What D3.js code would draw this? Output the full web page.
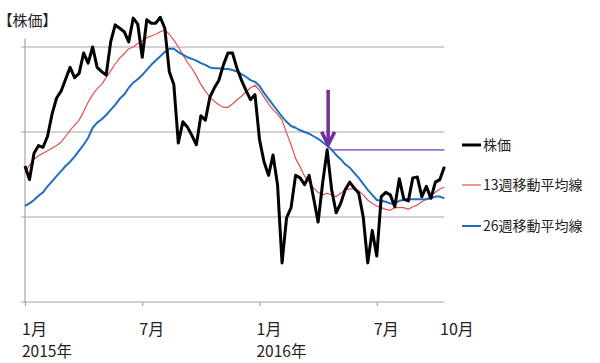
<!DOCTYPE html>
<html>
<head>
<meta charset="utf-8">
<script src="https://cdn.jsdelivr.net/npm/d3@7"></script>
<style>
  body { margin: 0; background: #fff; }
  text { font-family: "Noto Sans CJK JP", "Noto Sans", sans-serif; fill: #222; }
</style>
</head>
<body>
<svg id="chart" width="600" height="363"></svg>
<script>
// weekly closes, Jan 2015 - early Oct 2016 (units unlabelled in the source)
const price = [160, 144, 175, 184, 182, 195, 221, 240, 248, 262, 276, 264, 269, 293, 281, 300,
  276, 271, 267, 306, 326, 322, 318, 306, 334, 327, 288, 332, 328, 328, 335, 322,
  271, 256, 187, 212, 206, 196, 185, 219, 214, 241, 252, 261, 279, 293, 293, 275,
  261, 249, 238, 244, 191, 165, 149, 173, 138, 46, 99, 111, 149, 146, 138, 149,
  122, 94, 140, 179, 132, 105, 116, 132, 141, 134, 128, 100, 46, 84, 54, 124,
  129, 126, 112, 145, 121, 119, 146, 147, 124, 136, 122, 141, 144, 159];

const ma13 = [152, 161, 168, 172, 175, 178, 181, 184, 188, 195, 202, 208, 214, 224, 235, 244,
  251, 256, 264, 272, 280, 287, 292, 298, 300, 304, 307, 311, 313, 315, 318, 320,
  315, 308, 300, 291, 282, 275, 266, 256, 248, 241, 236, 232, 229, 229, 233, 238,
  242, 247, 252, 255, 249, 241, 233, 226, 221, 214, 199, 185, 169, 159, 148, 141,
  134, 129, 126, 128, 126, 124, 128, 132, 133, 133, 131, 126, 120, 116, 113, 111,
  109, 108, 111, 111, 111, 109, 112, 114, 118, 121, 125, 129, 133, 135];

const ma26 = [113, 116, 120, 125, 129, 136, 142, 148, 154, 160, 165, 171, 178, 185, 193, 205,
  211, 215, 220, 226, 232, 239, 244, 252, 258, 262, 267, 273, 279, 284, 289, 294,
  298, 298, 294, 291, 288, 286, 284, 281, 279, 276, 275, 275, 274, 274, 273, 271,
  268, 265, 261, 259, 254, 246, 239, 232, 225, 218, 212, 207, 205, 202, 200, 198,
  195, 192, 188, 184, 179, 173, 168, 162, 158, 152, 146, 139, 132, 126, 120, 119,
  118, 116, 116, 119, 120, 121, 121, 121, 121, 121, 122, 124, 124, 122];

const gridValues = [100, 200, 300];
const monthTicks = [0, 26, 52, 78];
const monthLabels = ["1月", "7月", "1月", "7月"];
const yearLabels = ["2015年", "", "2016年", ""];
const lastLabel = "10月";
const signalWeek = 67;
const signalValue = 179;

const seriesNames = ["株価", "13週移動平均線", "26週移動平均線"];
const seriesColors = ["#000000", "#E5504C", "#1F6FBF"];
const seriesWidths = [3, 1.2, 2];

const svg = d3.select("#chart");

const x = d3.scaleLinear().domain([0, price.length - 1]).range([25, 444.4]);
const y = d3.scaleLinear().domain([0, 310]).range([302, 38.5]);

// gridlines (stick out a little to the left like tick marks)
svg.append("g")
    .selectAll("line")
    .data(gridValues)
    .join("line")
    .attr("x1", x.range()[0] - 4)
    .attr("x2", x.range()[1])
    .attr("y1", d => y(d))
    .attr("y2", d => y(d))
    .attr("stroke", "#A6A6A6")
    .attr("stroke-width", 1.2);

// y axis line
svg.append("line")
    .attr("x1", x(0)).attr("x2", x(0))
    .attr("y1", y(0)).attr("y2", y(310))
    .attr("stroke", "#A6A6A6")
    .attr("stroke-width", 1.2);

// x axis
const xAxis = svg.append("g")
    .attr("transform", `translate(0,${y(0)})`)
    .call(d3.axisBottom(x).tickValues(monthTicks).tickSize(4).tickSizeOuter(0).tickFormat(""));
xAxis.select(".domain").attr("stroke", "#A6A6A6").attr("stroke-width", 1.2)
    .attr("d", `M${x(0) - 4},0H${x.range()[1]}`);
xAxis.selectAll(".tick line").attr("stroke", "#A6A6A6").attr("stroke-width", 1.2);

svg.append("g")
    .selectAll("text")
    .data(monthTicks)
    .join("text")
    .attr("x", d => x(d) - 3)
    .attr("y", 335)
    .style("font-size", "16px")
    .text((d, i) => monthLabels[i]);

svg.append("text")
    .attr("x", 440)
    .attr("y", 335)
    .style("font-size", "16px")
    .text(lastLabel);

svg.append("g")
    .selectAll("text")
    .data(monthTicks)
    .join("text")
    .attr("x", d => x(d) - 3)
    .attr("y", 357)
    .style("font-size", "15.5px")
    .text((d, i) => yearLabels[i]);

// title
svg.append("text")
    .attr("x", 5)
    .attr("y", 26)
    .style("font-size", "15px")
    .style("font-feature-settings", "'palt'")
    .text("【株価】");

// signal level line
svg.append("line")
    .attr("x1", x(signalWeek) + 4)
    .attr("x2", x.range()[1])
    .attr("y1", y(signalValue))
    .attr("y2", y(signalValue))
    .attr("stroke", "#9B6FD3")
    .attr("stroke-width", 1.6);

// series lines, thin ones first
const line = d3.line().x((d, i) => x(i)).y(d => y(d));
const series = [price, ma13, ma26];
[1, 2, 0].forEach(k => {
    svg.append("path")
        .datum(series[k])
        .attr("fill", "none")
        .attr("stroke", seriesColors[k])
        .attr("stroke-width", seriesWidths[k])
        .attr("stroke-linejoin", "round")
        .attr("d", line);
});

// purple arrow pointing at the crossing
const ax = x(signalWeek) + 1;
const tipY = y(signalValue) - 5;
svg.append("line")
    .attr("x1", ax).attr("x2", ax)
    .attr("y1", tipY - 55).attr("y2", tipY - 2)
    .attr("stroke", "#7030A0")
    .attr("stroke-width", 3.5);
svg.append("path")
    .attr("d", `M${ax - 6.5},${tipY - 13}L${ax},${tipY}L${ax + 6.5},${tipY - 13}`)
    .attr("fill", "none")
    .attr("stroke", "#7030A0")
    .attr("stroke-width", 3.5)
    .attr("stroke-linejoin", "miter");

// legend
const legend = svg.append("g")
    .selectAll("g")
    .data(seriesNames)
    .join("g")
    .attr("transform", (d, i) => `translate(462,${[145, 185, 226][i]})`);
legend.append("line")
    .attr("x1", 0).attr("x2", 19)
    .attr("stroke", (d, i) => seriesColors[i])
    .attr("stroke-width", (d, i) => seriesWidths[i]);
legend.append("text")
    .attr("x", 21)
    .attr("dy", "0.35em")
    .style("font-size", "14px")
    .text(d => d);
</script>
</body>
</html>
